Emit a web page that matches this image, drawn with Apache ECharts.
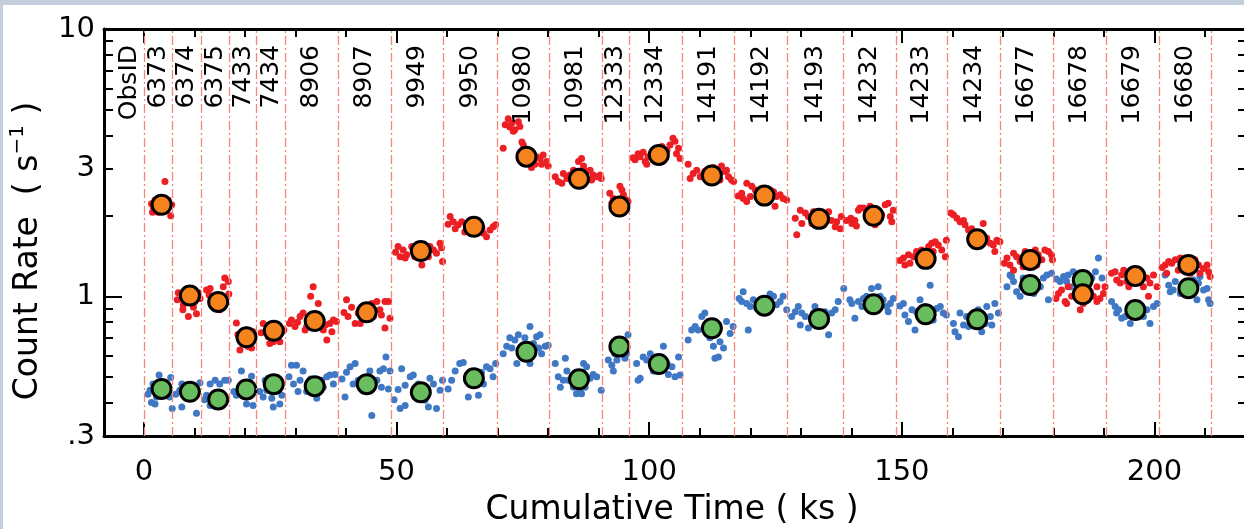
<!DOCTYPE html>
<html><head><meta charset="utf-8">
<script src="https://cdn.jsdelivr.net/npm/echarts@6/dist/echarts.min.js"></script>
<style>html,body{margin:0;padding:0;background:#fff}#c{width:1244px;height:529px}</style>
</head><body><div id="c"></div>
<script>
// ---- data ----
const boundaries = [0, 5.68, 11.35, 16.97, 22.32, 27.98, 38.47, 48.85, 59.27, 69.84, 80.26, 90.69, 96.1, 106.47, 116.9, 127.38, 138.35, 148.9, 159.06, 169.55, 179.92, 190.37, 200.86, 211.3];
const obsIds = ['6373','6374','6375','7433','7434','8906','8907','9949','9950','10980','10981','12333','12334','14191','14192','14193','14232','14233','14234','16677','16678','16679','16680'];
const circleX = [3.5, 9.1, 14.7, 20.3, 25.7, 33.8, 44.1, 54.8, 65.3, 75.7, 86.1, 94.1, 101.9, 112.4, 122.8, 133.6, 144.4, 154.7, 164.9, 175.4, 185.8, 196.2, 206.7];
const orangeRate = [2.20, 1.006, 0.952, 0.702, 0.743, 0.808, 0.871, 1.477, 1.82, 3.33, 2.75, 2.166, 3.38, 2.83, 2.38, 1.948, 2.0, 1.38, 1.635, 1.368, 1.017, 1.19, 1.31];
const greenRate = [0.450, 0.439, 0.411, 0.448, 0.469, 0.461, 0.469, 0.437, 0.493, 0.620, 0.489, 0.648, 0.558, 0.759, 0.922, 0.822, 0.933, 0.856, 0.820, 1.102, 1.15, 0.889, 1.072];
const redDots = [
[4.16,2.69],[1.5,2.22],[1.7,2.06],[2.2,2.29],[4.8,2.29],[5.5,2.2],[5.3,2.0],[2.8,2.06],[4.2,2.1],[4.5,2.22],[3.2,2.15],[1.9,2.14],
[6.8,1.03],[7.5,0.98],[7.8,0.93],[8.4,1.055],[8.8,0.84],[9.8,0.91],[10.4,0.86],[10.8,1.03],[11.1,0.98],[10.1,0.955],[7.7,0.89],[9.3,1.0],[6.6,0.97],
[12.4,1.055],[13.1,1.07],[13.7,0.98],[14.1,0.91],[15.0,0.89],[15.7,1.085],[16.0,1.17],[16.7,1.135],[16.8,1.02],[15.4,0.97],[14.7,1.0],[12.9,1.01],
[18.3,0.795],[19.0,0.63],[19.7,0.717],[20.6,0.648],[21.3,0.64],[21.6,0.737],[20.3,0.748],[19.3,0.686],[18.6,0.72],[21.0,0.69],
[23.6,0.79],[24.3,0.748],[24.9,0.666],[25.6,0.676],[26.3,0.717],[27.3,0.737],[27.7,0.748],[26.9,0.676],[24.6,0.705],[23.2,0.73],
[29.2,0.815],[29.9,0.77],[30.9,0.84],[31.5,0.865],[32.2,0.77],[33.0,1.0],[33.5,1.085],[34.5,0.94],[34.8,0.79],[35.5,0.748],[36.2,0.686],[36.8,0.79],[37.5,0.815],[38.1,0.805],[37.2,0.737],[31.9,0.748],[34.2,0.84],[28.8,0.79],[30.4,0.8],[35.9,0.78],
[40.1,0.97],[40.4,0.84],[41.1,0.91],[41.8,0.79],[42.4,0.865],[43.4,0.91],[45.1,0.94],[46.1,0.955],[46.7,0.89],[47.7,0.955],[48.4,0.955],[48.7,0.827],[47.7,0.76],[45.4,0.84],[42.8,0.79],[47.0,0.85],[39.6,0.87],[43.9,0.83],
[50.3,1.535],[50.7,1.405],[51.3,1.49],[52.0,1.43],[53.0,1.535],[53.6,1.405],[55.0,1.31],[56.3,1.405],[57.3,1.49],[57.9,1.45],[58.6,1.58],[58.9,1.52],[59.1,1.35],[55.6,1.47],[51.7,1.39],[56.6,1.535],[49.8,1.46],[54.2,1.45],
[60.6,1.99],[61.2,1.9],[62.2,1.85],[62.9,1.9],[63.9,1.82],[64.5,1.87],[66.5,1.85],[67.2,1.72],[67.8,1.67],[68.5,1.77],[69.1,1.82],[69.6,1.85],[65.9,1.74],[63.5,1.74],[61.6,1.79],[60.2,1.86],[66.9,1.8],
[71.5,4.38],[72.1,4.62],[72.8,4.45],[73.4,4.2],[74.1,4.5],[74.4,4.32],[73.1,4.14],[71.1,3.58],[74.8,3.78],[75.1,3.68],[77.1,3.19],[77.7,3.33],[78.4,3.28],[79.0,3.38],[79.7,3.19],[80.0,3.07],[76.7,3.03],[78.7,3.12],[77.4,3.12],[72.4,4.3],
[81.4,2.8],[82.0,2.69],[82.7,2.65],[83.7,2.76],[84.3,2.84],[85.0,2.96],[86.0,3.19],[86.6,3.28],[87.0,3.07],[87.6,2.93],[88.3,2.96],[88.9,2.84],[89.6,2.8],[90.3,2.84],[90.5,2.76],[83.0,2.88],[85.6,2.84],[88.6,2.72],[86.3,2.65],[84.7,2.72],
[92.2,2.43],[92.6,2.23],[92.9,2.32],[93.6,2.29],[94.2,2.58],[94.6,2.5],[94.9,2.4],[95.5,2.29],[95.8,2.26],[93.9,2.05],[92.9,2.14],[95.2,2.17],
[97.2,3.24],[97.8,3.41],[98.8,3.46],[99.2,3.19],[99.8,3.33],[100.5,3.41],[101.5,3.58],[102.5,3.63],[103.5,3.52],[104.1,3.68],[104.7,3.9],[105.1,3.8],[105.4,3.41],[106.1,3.28],[105.8,3.58],[99.5,3.12],[103.1,3.33],[100.8,3.24],[98.2,3.33],[96.8,3.3],
[107.7,3.12],[108.1,2.76],[108.7,2.88],[109.4,2.96],[110.1,2.8],[111.0,2.93],[111.7,2.84],[112.7,3.03],[113.7,2.88],[114.3,3.07],[115.0,2.93],[115.7,2.8],[116.3,2.72],[116.7,2.69],[112.0,2.72],[114.0,2.72],[115.3,2.96],[110.6,2.85],
[118.3,2.43],[118.6,2.32],[119.3,2.26],[120.0,2.36],[120.3,2.58],[121.0,2.5],[121.6,2.4],[122.3,2.29],[123.3,2.36],[123.9,2.5],[124.6,2.46],[125.2,2.36],[125.9,2.4],[126.5,2.32],[127.2,2.29],[124.9,2.17],[119.3,2.65],[117.6,2.37],
[128.9,1.96],[129.2,1.7],[129.9,2.1],[130.9,2.05],[131.5,1.99],[132.5,2.07],[133.2,2.02],[134.5,1.85],[135.5,2.07],[136.1,1.92],[137.1,1.9],[137.8,1.79],[138.0,1.99],[136.8,1.82],[130.2,1.87],[132.2,1.87],[134.0,1.97],
[140.1,1.87],[140.7,1.92],[141.4,2.1],[142.4,2.14],[143.0,2.07],[143.7,2.17],[145.3,1.9],[146.0,2.02],[146.7,2.2],[147.3,2.23],[147.7,1.99],[148.3,2.1],[148.0,1.9],[144.7,1.85],[141.0,1.83],[139.9,1.96],[141.7,2.14],[139.0,1.92],
[150.3,1.39],[150.6,1.31],[151.3,1.43],[152.3,1.405],[152.9,1.47],[153.9,1.49],[155.3,1.535],[155.9,1.58],[156.6,1.6],[157.2,1.555],[157.9,1.49],[158.6,1.405],[158.8,1.62],[156.2,1.47],[151.6,1.33],[153.6,1.35],[149.6,1.36],
[160.2,2.02],[160.9,1.96],[161.5,1.9],[162.5,1.85],[163.2,1.77],[163.8,1.79],[164.5,1.74],[165.5,1.72],[166.1,1.87],[166.8,1.65],[167.5,1.58],[168.1,1.555],[168.8,1.62],[169.4,1.6],[168.4,1.47],[165.8,1.62],[162.2,1.92],[159.7,2.05],
[170.8,1.39],[171.4,1.31],[172.1,1.45],[172.7,1.405],[173.4,1.35],[174.4,1.47],[176.4,1.49],[177.0,1.43],[177.7,1.37],[178.3,1.49],[179.0,1.47],[179.6,1.43],[179.8,1.37],[176.7,1.31],[172.1,1.25],[174.0,1.29],[170.3,1.33],
[181.0,1.025],[181.6,1.055],[182.3,0.955],[182.9,1.085],[183.6,1.0],[184.6,1.055],[185.3,0.89],[187.3,1.04],[187.9,1.0],[188.6,1.085],[189.2,0.98],[189.9,1.025],[190.2,1.085],[185.9,0.94],[182.6,0.94],[188.6,0.955],[180.5,0.98],[186.8,0.97],
[191.5,1.22],[192.2,1.235],[192.5,1.15],[193.5,1.2],[193.9,1.25],[194.5,1.135],[194.9,1.085],[197.2,1.135],[197.8,1.085],[198.5,1.17],[199.1,1.12],[199.8,1.2],[200.5,1.085],[198.8,1.0],[193.2,1.12],[195.5,1.16],
[202.1,1.31],[202.8,1.35],[203.4,1.33],[204.1,1.37],[205.1,1.39],[206.1,1.31],[208.0,1.37],[208.7,1.31],[209.7,1.27],[210.4,1.31],[211.0,1.185],[210.7,1.235],[202.4,1.22],[204.7,1.25],[209.0,1.22],[207.1,1.22],[201.5,1.28]
];
const blueDots = [
[1.2,0.445],[1.8,0.47],[1.5,0.40],[2.2,0.395],[3.0,0.507],[4.5,0.47],[5.1,0.42],[5.3,0.497],[5.6,0.38],[4.2,0.426],[2.5,0.42],[0.8,0.43],
[7.1,0.445],[7.5,0.47],[8.1,0.426],[8.8,0.415],[9.4,0.452],[10.4,0.365],[11.1,0.475],[10.1,0.44],[7.5,0.385],[9.0,0.465],[6.3,0.43],
[12.4,0.426],[13.1,0.39],[14.1,0.485],[15.0,0.47],[16.0,0.485],[16.7,0.485],[13.7,0.395],[15.4,0.42],[13.1,0.47],[12.0,0.41],
[18.3,0.426],[19.0,0.457],[19.3,0.525],[20.3,0.395],[20.6,0.445],[21.3,0.502],[21.6,0.39],[20.0,0.47],[17.8,0.44],
[23.6,0.42],[24.3,0.445],[24.6,0.493],[25.3,0.415],[25.6,0.385],[26.3,0.457],[26.9,0.395],[27.3,0.426],[24.0,0.485],[22.9,0.44],
[29.2,0.552],[30.2,0.552],[29.6,0.47],[30.9,0.485],[31.5,0.525],[32.2,0.44],[33.5,0.445],[34.2,0.415],[35.2,0.485],[36.2,0.5],[36.8,0.507],[37.8,0.51],[30.5,0.44],[35.5,0.457],[37.5,0.47],[28.7,0.5],[33.0,0.49],
[40.1,0.52],[40.8,0.545],[41.8,0.56],[42.4,0.485],[43.4,0.445],[44.7,0.525],[45.1,0.358],[46.1,0.485],[46.7,0.525],[47.4,0.535],[47.9,0.593],[48.7,0.525],[45.4,0.47],[41.4,0.47],[39.8,0.42],[47.0,0.457],[48.4,0.45],[39.2,0.49],
[50.3,0.448],[51.0,0.535],[50.7,0.38],[51.7,0.39],[52.7,0.5],[53.3,0.507],[54.3,0.47],[55.6,0.408],[56.6,0.493],[57.3,0.47],[57.9,0.38],[58.6,0.445],[59.1,0.485],[53.6,0.42],[56.3,0.385],[51.7,0.465],[49.5,0.41],
[60.9,0.485],[61.6,0.525],[62.5,0.56],[63.2,0.565],[64.2,0.42],[65.2,0.465],[66.2,0.426],[66.8,0.52],[67.8,0.545],[68.5,0.535],[69.1,0.5],[69.6,0.56],[63.9,0.485],[67.2,0.47],[60.2,0.45],
[71.1,0.61],[71.8,0.65],[72.4,0.7],[72.8,0.64],[73.4,0.686],[74.1,0.717],[74.8,0.65],[75.4,0.7],[76.4,0.77],[77.1,0.666],[77.7,0.705],[78.4,0.717],[78.7,0.61],[79.4,0.65],[80.0,0.656],[73.8,0.56],[76.4,0.56],[78.1,0.64],
[81.4,0.56],[82.0,0.5],[82.4,0.457],[83.4,0.586],[83.7,0.525],[84.0,0.485],[85.0,0.457],[85.6,0.432],[86.3,0.445],[87.0,0.56],[87.6,0.545],[88.3,0.493],[88.9,0.51],[89.6,0.5],[90.5,0.445],[83.0,0.485],[87.3,0.457],[86.6,0.432],
[91.9,0.577],[92.6,0.552],[92.9,0.525],[93.2,0.61],[93.9,0.64],[94.6,0.686],[95.2,0.586],[95.8,0.717],[95.5,0.61],[93.6,0.577],
[97.5,0.56],[97.8,0.485],[98.8,0.593],[99.5,0.577],[100.2,0.61],[100.8,0.525],[101.8,0.56],[102.8,0.65],[103.5,0.56],[104.5,0.545],[105.1,0.5],[105.8,0.593],[106.1,0.507],[103.8,0.51],[98.2,0.493],
[107.7,0.686],[108.4,0.748],[109.1,0.77],[110.4,0.84],[111.0,0.865],[111.4,0.726],[112.0,0.7],[113.4,0.726],[114.0,0.676],[113.7,0.593],[113.0,0.586],[114.7,0.64],[115.3,0.805],[116.0,0.726],[116.6,0.77],[112.7,0.65],[109.7,0.748],
[118.6,1.04],[118.3,0.955],[119.3,0.94],[120.0,0.915],[120.6,0.97],[121.3,0.9],[121.9,0.94],[123.3,0.97],[123.9,1.02],[124.6,1.0],[125.2,0.93],[125.9,0.955],[126.5,1.0],[127.2,0.89],[119.6,0.748],[123.6,0.9],[117.8,0.98],
[128.9,0.875],[129.5,0.915],[130.2,0.865],[130.9,0.84],[131.5,0.76],[132.5,0.865],[133.8,0.79],[134.8,0.875],[135.5,0.717],[136.1,0.865],[136.8,0.89],[137.4,0.955],[135.1,0.815],[129.9,0.78],[132.8,0.915],[128.2,0.84],
[138.5,1.07],[139.7,0.97],[140.1,0.94],[140.7,0.827],[141.4,0.955],[142.4,0.98],[143.0,1.0],[144.0,1.07],[145.3,1.085],[145.7,1.0],[146.3,0.97],[147.0,0.915],[147.7,0.94],[148.3,0.98],[147.3,0.875],[142.1,0.915],[145.0,0.9],
[150.3,0.94],[150.6,0.85],[151.3,0.805],[152.0,0.89],[152.6,0.748],[153.6,0.97],[154.6,0.915],[155.6,1.1],[156.2,0.815],[156.9,0.9],[157.6,0.915],[158.2,0.865],[158.8,0.85],[155.3,0.84],[152.9,0.875],[149.6,0.92],
[160.2,0.79],[160.5,0.737],[161.2,0.705],[161.5,0.865],[162.2,0.78],[163.2,0.77],[163.8,0.815],[165.1,0.89],[165.8,0.737],[166.8,0.915],[167.5,0.84],[167.8,0.78],[168.4,0.94],[169.1,0.865],[162.8,0.84],[166.5,0.79],
[170.8,1.085],[171.4,1.2],[172.1,1.135],[172.7,1.04],[173.4,1.0],[174.0,1.17],[176.7,1.135],[177.4,1.085],[178.0,1.17],[178.7,1.2],[179.0,0.97],[179.6,1.22],[171.7,1.185],[176.1,1.025],[173.7,1.085],
[181.3,1.135],[182.0,1.185],[182.9,1.2],[183.3,1.085],[183.9,1.235],[184.6,1.17],[187.6,1.17],[188.3,1.235],[188.9,1.39],[189.6,1.17],[182.6,1.135],[186.9,1.1],[185.3,1.22],[180.6,1.16],
[191.5,0.955],[192.2,0.915],[192.9,0.89],[193.5,0.827],[194.2,0.84],[195.2,0.79],[195.8,0.84],[197.2,0.865],[197.8,0.84],[198.5,0.89],[199.1,0.79],[199.8,0.915],[200.5,0.94],[192.5,0.865],[197.5,0.915],
[202.1,1.2],[202.8,1.1],[203.1,1.04],[204.1,1.135],[205.1,1.025],[205.7,1.1],[208.0,1.085],[208.7,1.12],[209.0,1.185],[209.7,1.055],[210.4,1.07],[210.7,0.97],[211.0,0.94],[208.4,0.97],[203.7,1.055],[207.7,1.15]
];
// ticks / labels
const xMinorTicks = [0,10,20,30,40,50,60,70,80,90,100,110,120,130,140,150,160,170,180,190,200,210];
const xMajorTicks = [0,50,100,150,200];
const xLabelValues = [0,50,100,150,200];
const yMinorTicks = [0.3,0.4,0.5,0.6,0.7,0.8,0.9,1,2,3,4,5,6,7,8,9,10];
const yMajorTicks = [1];
const yLabelValues = [0.3,1,3,10];
const yLabelTexts = ['.3','1','3','10'];
const obsLabelTitle = 'ObsID';
const obsLabelTitleX = -2.8;

// ---- chart ----
const FONT = 'DejaVu Sans';
const L = v => Math.log10(v);
const xMin = -7.9, xMax = 218.3, yMin = L(0.3), yMax = 1;

function xAx(pos, ticks, len, line, labels) {
  return {
    type: 'value', position: pos, min: xMin, max: xMax, scale: true,
    axisLine: { show: line, onZero: false, lineStyle: { color: '#000', width: 3 } },
    axisTick: { show: true, inside: true, length: len, customValues: ticks, lineStyle: { color: '#000', width: 2 } },
    axisLabel: labels ? { show: true, customValues: xLabelValues, margin: 22, color: '#000', fontFamily: FONT, fontSize: 29, formatter: v => String(Math.round(v)) } : { show: false },
    splitLine: { show: false }
  };
}
function yAx(pos, ticks, len, line, labels) {
  return {
    type: 'value', position: pos, min: yMin, max: yMax, scale: true,
    axisLine: { show: line, onZero: false, lineStyle: { color: '#000', width: 3 } },
    axisTick: { show: true, inside: true, length: len, customValues: ticks.map(L), lineStyle: { color: '#000', width: 2 } },
    axisLabel: labels ? { show: true, customValues: yLabelValues.map(L), margin: 9, color: '#000', fontFamily: FONT, fontSize: 29,
      formatter: v => { for (let i = 0; i < yLabelValues.length; i++) { if (Math.abs(L(yLabelValues[i]) - v) < 1e-6) return yLabelTexts[i]; } return ''; } } : { show: false },
    splitLine: { show: false }
  };
}

const obsLabelNames = [obsLabelTitle].concat(obsIds);
const obsLabelX = [obsLabelTitleX].concat(obsIds.map((id, i) => (boundaries[i] + boundaries[i + 1]) / 2));

const chart = echarts.init(document.getElementById('c'));
chart.setOption({
  animation: false,
  backgroundColor: '#ffffff',
  grid: { left: 104, top: 29, width: 1143, height: 407, containLabel: false, outerBoundsMode: 'none' },
  xAxis: [ xAx('bottom', xMinorTicks, 8, true, true), xAx('bottom', xMajorTicks, 14, false, false),
           xAx('top', xMinorTicks, 8, true, false), xAx('top', xMajorTicks, 14, false, false) ],
  yAxis: [ yAx('left', yMinorTicks, 9, true, true), yAx('left', yMajorTicks, 18, false, false),
           yAx('right', yMinorTicks, 9, true, false), yAx('right', yMajorTicks, 18, false, false) ],
  graphic: [
    { type: 'rect', shape: { x: 0, y: 0, width: 1244, height: 5 }, style: { fill: '#c4cfde' }, silent: true },
    { type: 'rect', shape: { x: 0, y: 0, width: 3, height: 529 }, style: { fill: '#c4cfde' }, silent: true },
    { type: 'text', x: 672, y: 510, silent: true,
      style: { text: 'Cumulative Time ( ks )', fontSize: 33, fontFamily: FONT, fill: '#000', align: 'center', verticalAlign: 'middle' } },
    { type: 'text', x: 28, y: 251, rotation: Math.PI / 2, silent: true,
      style: { text: '{n|Count Rate  ( s}{sup|−1}{n| )}', fontSize: 33, fontFamily: FONT, fill: '#000', align: 'center', verticalAlign: 'middle',
        rich: { n: { fontSize: 33, fontFamily: FONT, lineHeight: 40, fill: '#000' }, sup: { fontSize: 20, fontFamily: FONT, lineHeight: 20, verticalAlign: 'top', fill: '#000' } } } }
  ],
  series: [
    { type: 'scatter', name: 'boundaries', data: [], z: 1, silent: true,
      markLine: { silent: true, symbol: ['none', 'none'], label: { show: false },
        lineStyle: { color: '#f4877c', width: 1.3, type: [9, 3, 2, 3] },
        emphasis: { disabled: true },
        data: boundaries.map(b => ({ xAxis: b })) } },
    { type: 'scatter', name: 'soft', data: blueDots.map(d => [d[0], L(d[1])]), symbolSize: 7, z: 2, silent: true,
      itemStyle: { color: '#3f78c4', opacity: 1 } },
    { type: 'scatter', name: 'hard', data: redDots.map(d => [d[0], L(d[1])]), symbolSize: 7, z: 3, silent: true,
      itemStyle: { color: '#ec1f24', opacity: 1 } },
    { type: 'scatter', name: 'softMean', data: circleX.map((x, i) => [x, L(greenRate[i])]), symbolSize: 19, z: 4, silent: true,
      itemStyle: { color: '#6abd5f', borderColor: '#000', borderWidth: 3, opacity: 1 } },
    { type: 'scatter', name: 'hardMean', data: circleX.map((x, i) => [x, L(orangeRate[i])]), symbolSize: 19, z: 5, silent: true,
      itemStyle: { color: '#f5841f', borderColor: '#000', borderWidth: 3, opacity: 1 } },
    { type: 'custom', name: 'obsLabels', data: obsLabelX.map(x => [x, 0]), z: 6, silent: true,
      renderItem: (params, api) => {
        const p = api.coord([api.value(0), 0]);
        const top = params.coordSys.y;
        return { type: 'group', x: p[0], y: top + 16, children: [
          { type: 'text', rotation: Math.PI / 2, originX: 0, originY: 0,
            style: { x: 0, y: 0, text: obsLabelNames[params.dataIndex], fill: '#000', fontFamily: FONT, fontSize: 25, align: 'right', verticalAlign: 'middle' } } ] };
      } }
  ]
});
</script></body></html>
